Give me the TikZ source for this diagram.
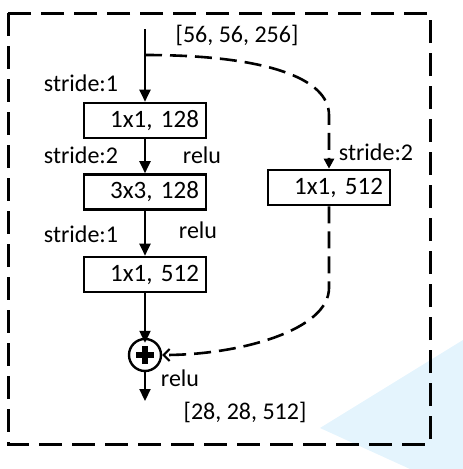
\documentclass[tikz,border=0pt]{standalone}
\usepackage{fontspec}
\setmainfont{Carlito}
\usetikzlibrary{arrows.meta}
\definecolor{bgblue}{RGB}{228,244,253}
\begin{document}
\begin{tikzpicture}[x=1pt,y=-1pt,
 box/.style={draw,line width=2.6pt,minimum width=122pt,minimum height=35pt,text width=108pt,align=right,inner xsep=7pt,inner ysep=0pt,font=\fontsize{25}{28}\selectfont},
 lbl/.style={font=\fontsize{24}{28}\selectfont,inner sep=0pt},
 arr/.style={line width=2.2pt,-{Triangle[length=12pt,width=11pt]}},
 darr/.style={line width=2.6pt,dash pattern=on 17pt off 8pt},
 sumnode/.style={draw,circle,line width=2.4pt,minimum size=32pt,inner sep=0pt}]
\useasboundingbox (0,0) rectangle (463,469);
\fill[bgblue] (320,428) -- (463,340) -- (463,469) -- (410,469) -- cycle;
\draw[line width=3pt,dash pattern=on 23pt off 10pt] (8,13) rectangle (430,444);
% nodes
\coordinate (in) at (145,29);
\coordinate (split) at (145,55);
\coordinate (out) at (145,401);
\node[box] (b1) at (145,120.5) {1x1, 128};
\node[box] (b2) at (145,192) {3x3, 128};
\node[box] (b3) at (145,274.5) {1x1, 512};
\node[box] (b4) at (329,187.5) {1x1, 512};
\node[sumnode] (sum) at (145,355) {};
\fill (sum.center) ++(-3.2,-9) rectangle ++(6.4,18);
\fill (sum.center) ++(-9,-3.2) rectangle ++(18,6.4);
% labels
\node[lbl] (t1) at (237,35) {[56, 56, 256]};
\node[lbl] (s1) at (81,83) {stride:1};
\node[lbl] (s2) at (81,155) {stride:2};
\node[lbl] (r1) at (202,155) {relu};
\node[lbl] (s3) at (81,234) {stride:1};
\node[lbl] (r2) at (198,230) {relu};
\node[lbl] (s4) at (376,152) {stride:2};
\node[lbl] (r3) at (180,378) {relu};
\node[lbl] (t2) at (245,412) {[28, 28, 512]};
% connectors
\draw[arr] (in) -- (b1.north);
\draw[arr] (b1.south) -- (b2.north);
\draw[arr] (b2.south) -- (b3.north);
\draw[arr] (b3.south) -- ([yshift=-5pt]sum.north);
\draw[arr] (sum.south) -- (out);
\draw[darr,-{Triangle[length=10pt,width=10pt]}] (split) .. controls (265,55) and (329,78) .. (329,115) -- (b4.north);
\draw[darr,-{Straight Barb[length=6pt,width=12pt,line width=2pt]}] (b4.south) -- (329,288) .. controls (329,330) and (240,355) .. (sum.east);
\end{tikzpicture}
\end{document}
